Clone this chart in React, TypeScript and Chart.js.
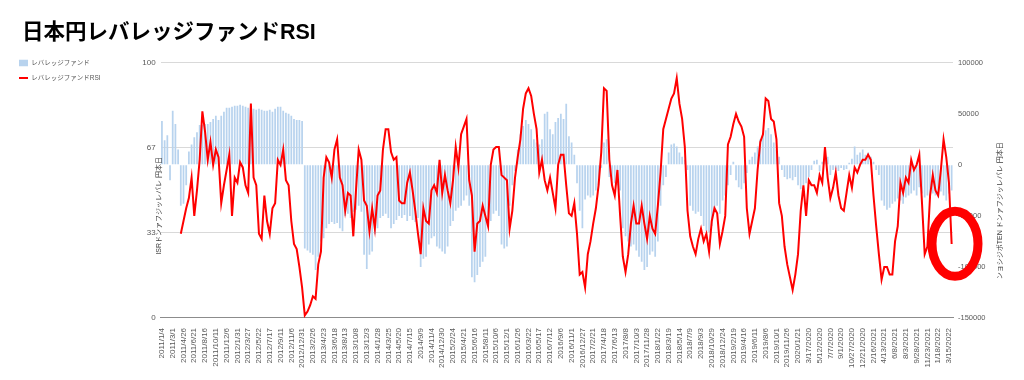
import { useEffect, useRef } from 'react';
import { Chart, registerables } from 'chart.js';

Chart.register(...registerables);

const FONT = "'Liberation Sans', 'Noto Sans CJK JP', sans-serif";

const TITLE = '日本円レバレッジファンドRSI';
const BAR_LABEL = 'レバレッジファンド';
const LINE_LABEL = 'レバレッジファンドRSI';
const LEFT_AXIS_TITLE = 'ISRドンァフジッレバレ 円本日';
const RIGHT_AXIS_TITLE = 'ンョシジポTEN ドンァフジッレバレ 円本日';

const TICK_LABELS = [
  '2011/1/4', '2011/3/1', '2011/4/26', '2011/6/21', '2011/8/16', '2011/10/11', '2011/12/6',
  '2012/1/31', '2012/3/27', '2012/5/22', '2012/7/17', '2012/9/11', '2012/11/6', '2012/12/31',
  '2013/2/26', '2013/4/23', '2013/6/18', '2013/8/13', '2013/10/8', '2013/12/3',
  '2014/1/28', '2014/3/25', '2014/5/20', '2014/7/15', '2014/9/9', '2014/11/4', '2014/12/30',
  '2015/2/24', '2015/4/21', '2015/6/16', '2015/8/11', '2015/10/6', '2015/12/1',
  '2016/1/26', '2016/3/22', '2016/5/17', '2016/7/12', '2016/9/6', '2016/11/1', '2016/12/27',
  '2017/2/21', '2017/4/18', '2017/6/13', '2017/8/8', '2017/10/3', '2017/11/28',
  '2018/1/22', '2018/3/19', '2018/5/14', '2018/7/9', '2018/9/3', '2018/10/29', '2018/12/24',
  '2019/2/19', '2019/4/16', '2019/6/11', '2019/8/6', '2019/10/1', '2019/11/26',
  '2020/1/21', '3/17/2020', '5/12/2020', '7/7/2020', '9/1/2020', '10/27/2020', '12/21/2020',
  '2/16/2021', '4/13/2021', '6/8/2021', '8/3/2021', '9/28/2021', '11/23/2021', '1/18/2022', '3/15/2022',
];

// Net position of leveraged funds (JPY), one value per two weeks
const FUND_NET = [
  43000, 24000, 29000, -15000, 53000, 40000, 15000, -40000, -38000, -20000,
  13000, 20000, 27000, 32000, 39000, 39000, 40000, 40000, 42000, 45000,
  48000, 44000, 48000, 52000, 56000, 56000, 57000, 58000, 58000, 59000,
  58000, 57000, 56000, 56000, 55000, 54000, 55000, 54000, 53000, 53000,
  54000, 52000, 55000, 57000, 57000, 53000, 51000, 50000, 48000, 45000,
  44000, 44000, 43000, -82000, -84000, -86000, -88000, -103000, -90000, -75000,
  -72000, -62000, -58000, -56000, -58000, -57000, -62000, -65000, -50000, -48000,
  -52000, -46000, -44000, -40000, -46000, -88000, -102000, -88000, -85000, -68000,
  -62000, -52000, -50000, -48000, -52000, -62000, -58000, -54000, -50000, -52000,
  -49000, -55000, -50000, -54000, -56000, -52000, -100000, -92000, -90000, -78000,
  -72000, -70000, -80000, -82000, -85000, -87000, -80000, -60000, -55000, -45000,
  -42000, -40000, -35000, -30000, -40000, -110000, -115000, -108000, -100000, -95000,
  -90000, -60000, -55000, -48000, -45000, -50000, -78000, -82000, -80000, -40000,
  -20000, -6000, 15000, 30000, 38000, 44000, 40000, 35000, 25000, 22000,
  20000, 25000, 50000, 52000, 35000, 30000, 42000, 46000, 50000, 45000,
  60000, 28000, 22000, 10000, -18000, -45000, -62000, -34000, -30000, -32000,
  -30000, -25000, -20000, -3000, 22000, 25000, -12000, -15000, -18000, -20000,
  -25000, -62000, -70000, -75000, -80000, -78000, -84000, -90000, -95000, -103000,
  -100000, -88000, -85000, -90000, -75000, -40000, -20000, -12000, 12000, 20000,
  21000, 18000, 12000, 8000, 5000, -5000, -40000, -45000, -48000, -46000,
  -50000, -60000, -65000, -66000, -60000, -45000, -40000, -48000, -35000, -30000,
  -20000, -10000, 3000, -15000, -22000, -24000, -18000, -8000, 5000, 8000,
  12000, 18000, 25000, 30000, 34000, 36000, 30000, 22000, 15000, 8000,
  -5000, -12000, -14000, -13000, -15000, -12000, -20000, -24000, -20000, -18000,
  -12000, -5000, 4000, 5000, -6000, 3000, 6000, 8000, -10000, -5000,
  -4000, -6000, -3000, -5000, -4000, 2000, 6000, 18000, 10000, 12000,
  15000, 10000, 12000, 8000, 3000, -5000, -10000, -35000, -40000, -44000,
  -42000, -38000, -36000, -33000, -35000, -38000, -32000, -30000, -28000, -25000,
  -30000, -22000, -28000, -32000, -30000, -33000, -28000, -30000, -32000, -26000,
  -30000, -35000, -28000, -25000,
];

// RSI of the leveraged fund position, one value per two weeks
const RSI = [
  null, null, null, null, null, null, null, 33, 38, 43,
  47, 55, 40, 50, 62, 81, 73, 62, 69, 60,
  66, 63, 45, 52, 58, 64, 40, 55, 53, 61,
  59, 52, 49, 84, 55, 52, 33, 31, 48, 38,
  33, 43, 45, 62, 60, 66, 54, 52, 38, 29,
  27, 20, 12, 1, 2.5, 5, 8.5, 7.5, 21, 26,
  55, 63, 61, 55, 66, 70, 55, 52, 42, 49,
  48, 32, 50, 66, 62, 46, 44, 34, 43, 35,
  48, 50, 66, 74, 74, 65, 62, 63, 46, 45,
  45, 53, 57, 50, 42, 33, 25, 43, 38, 37,
  50, 52, 49, 62, 49, 56, 50, 45, 54, 67,
  59, 72, 75, 78, 54, 48, 26, 37, 38, 44,
  40, 36, 60, 66, 67, 67, 56, 55, 54, 35,
  42, 55, 63, 70, 82, 88, 90, 87, 80, 74,
  57, 62, 54, 50, 55, 49, 43, 60, 64, 64,
  52, 41, 40, 45, 33, 17, 18, 12, 25, 30,
  37, 43, 52, 65, 90, 89, 62, 52, 48, 58,
  40, 24, 18, 25, 37, 44, 37, 37, 44, 37,
  31, 40, 35, 33, 44, 57, 74, 78, 82, 86,
  88, 94, 84, 78, 67, 42, 32, 28, 25, 31,
  35, 30, 33, 26, 38, 43, 41, 29, 34, 40,
  68, 71, 76, 80, 77, 75, 71, 43, 33, 38,
  43, 58, 69, 72, 86, 85, 78, 77, 70, 45,
  40, 28, 21, 16, 11, 17, 25, 42, 52, 40,
  54, 52, 52, 49, 56, 53, 67, 55, 47, 51,
  57, 48, 43, 42, 49, 56, 51, 59, 57, 60,
  62, 62, 64, 62, 48, 36, 25, 15, 20, 20,
  17, 17, 30, 36, 53, 49, 55, 53, 62, 58,
  60, 64, 45, 25, 28, 48, 56, 50, 48, 58,
  70, 63, 53, 29,
];

// Category axis: each tick label marks a run of four two-week points
const CATEGORIES: string[] = FUND_NET.map((_, i) =>
  i % 4 === 0 && TICK_LABELS[i / 4] !== undefined ? TICK_LABELS[i / 4] : ''
);

const titleIndent = {
  id: 'titleIndent',
  afterLayout(chart: any) {
    if (chart.titleBlock) chart.titleBlock.left += 11.5;
  },
};

const overlay = {
  id: 'overlay',
  afterDraw(chart: any) {
    const { ctx, chartArea: a } = chart;
    ctx.save();
    ctx.fillStyle = '#404040';
    ctx.font = `7px ${FONT}`;
    ctx.textAlign = 'center';
    ctx.textBaseline = 'middle';
    ctx.save();
    ctx.translate(a.left - 2, a.top + 143);
    ctx.rotate(-Math.PI / 2);
    ctx.fillText(LEFT_AXIS_TITLE, 0, 0);
    ctx.restore();
    ctx.save();
    ctx.translate(a.right + 47, a.top + 148);
    ctx.rotate(-Math.PI / 2);
    ctx.fillText(RIGHT_AXIS_TITLE, 0, 0);
    ctx.restore();
    // hand-drawn highlight circle
    ctx.beginPath();
    ctx.ellipse(a.right + 2, a.top + 181, 23, 32.5, 0, 0, Math.PI * 2);
    ctx.strokeStyle = '#ff0000';
    ctx.lineWidth = 9;
    ctx.stroke();
    ctx.restore();
  },
};

export default function App() {
  const ref = useRef<HTMLCanvasElement>(null);
  useEffect(() => {
    const chart = new Chart(ref.current as HTMLCanvasElement, {
      type: 'bar',
      data: {
        labels: CATEGORIES,
        datasets: [
          {
            type: 'bar',
            label: BAR_LABEL,
            data: FUND_NET,
            yAxisID: 'y1',
            backgroundColor: '#b8d3ee',
            borderWidth: 0,
            barPercentage: 0.65,
            categoryPercentage: 1,
            order: 1,
            pointStyle: 'rect',
          } as any,
          {
            type: 'line',
            label: LINE_LABEL,
            data: RSI,
            yAxisID: 'y',
            borderColor: '#ff0000',
            backgroundColor: '#ff0000',
            borderWidth: 2,
            pointRadius: 0,
            pointStyle: 'line',
            tension: 0,
            order: 0,
          } as any,
        ],
      },
      options: {
        animation: false,
        responsive: true,
        maintainAspectRatio: false,
        layout: { padding: { left: 2.5, right: 29, top: 0, bottom: 10 } },
        plugins: {
          title: {
            display: true,
            text: TITLE,
            align: 'start',
            color: '#000000',
            font: { family: FONT, size: 21.5, weight: 'bold' },
            padding: { top: 12, bottom: 17 },
          },
          legend: {
            position: 'left',
            align: 'start',
            title: { display: true, text: ' ', font: { size: 1 }, padding: { top: 42, bottom: 0 } },
            labels: {
              usePointStyle: true,
              pointStyleWidth: 9,
              boxHeight: 7,
              color: '#595959',
              font: { family: FONT, size: 6.5 },
              padding: 8.5,
              sort: (a: any, b: any) => a.datasetIndex - b.datasetIndex,
            },
          },
          tooltip: { enabled: false },
        },
        scales: {
          x: {
            grid: { display: false },
            border: { display: true, color: '#8c8c8c' },
            ticks: {
              autoSkip: false,
              maxRotation: 90,
              minRotation: 90,
              padding: 2,
              color: '#595959',
              font: { family: FONT, size: 8 },
              callback: (_v: any, i: number) => CATEGORIES[i],
            },
          },
          y: {
            position: 'left',
            min: 0,
            max: 100,
            afterFit: (s: any) => {
              s.width = 50;
            },
            ticks: {
              count: 4,
              padding: 5,
              color: '#595959',
              font: { family: FONT, size: 8 },
              callback: (v: any) => String(Math.round(Number(v))),
            },
            grid: {
              drawTicks: false,
              color: (c: any) => (c.tick && c.tick.value === 0 ? '#8c8c8c' : '#d9d9d9'),
            },
            border: { display: false },
          },
          y1: {
            position: 'right',
            min: -150000,
            max: 100000,
            afterFit: (s: any) => {
              s.width = 34;
            },
            ticks: {
              stepSize: 50000,
              padding: 5,
              color: '#595959',
              font: { family: FONT, size: 7.5 },
              callback: (v: any) => String(v),
            },
            grid: { drawOnChartArea: false, drawTicks: false },
            border: { display: false },
          },
        },
      },
      plugins: [titleIndent, overlay],
    });
    return () => chart.destroy();
  }, []);
  return (
    <div style={{ position: 'relative', width: 1008, height: 372 }}>
      <canvas ref={ref} />
    </div>
  );
}
